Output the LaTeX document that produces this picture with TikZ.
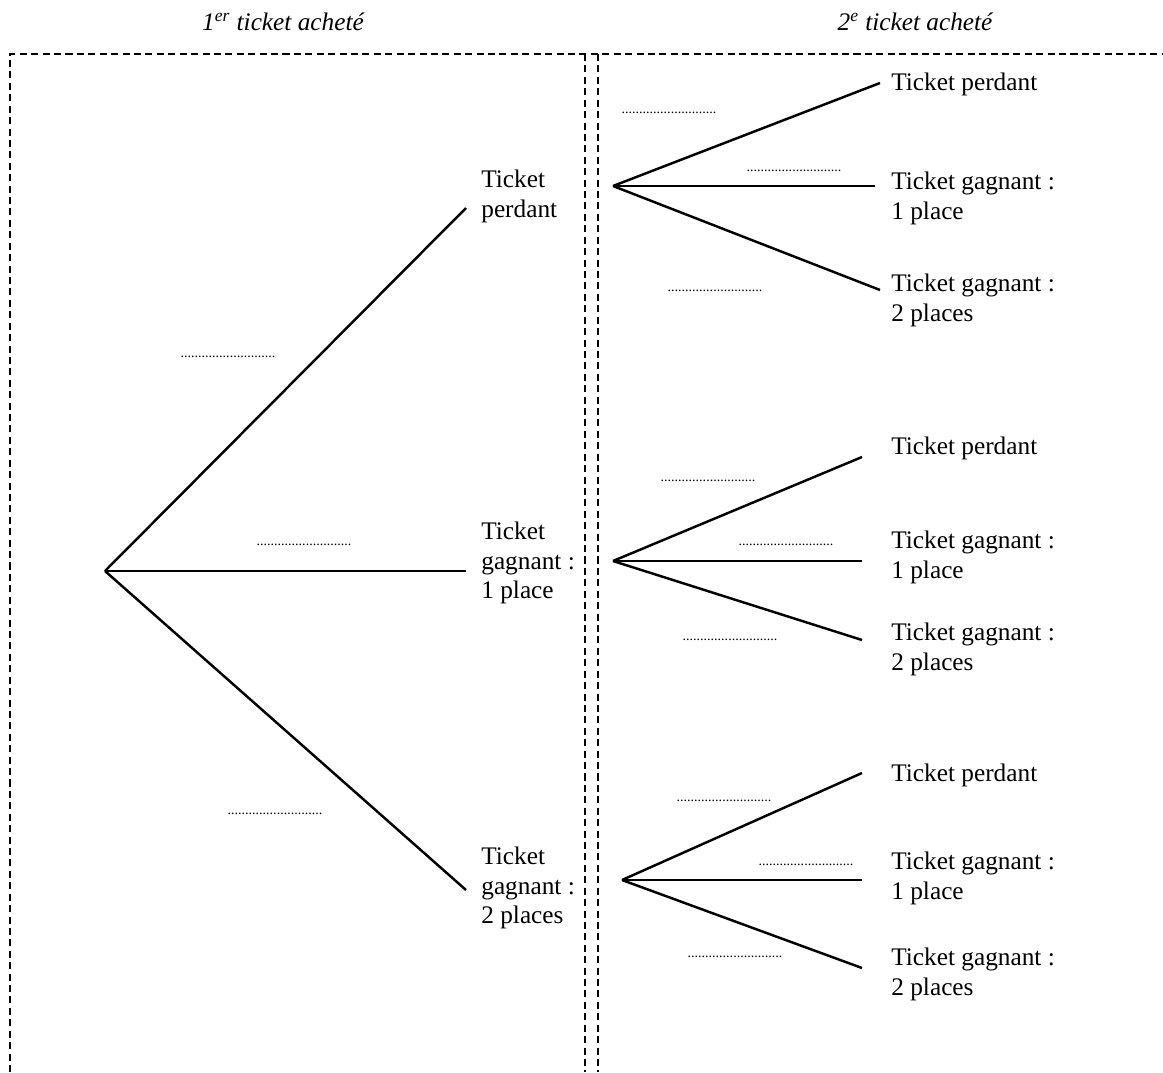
\documentclass[tikz,border=0pt]{standalone}
\usepackage{fontspec}
\setmainfont{Liberation Serif}
\usetikzlibrary{positioning}
\tikzset{
  branch/.style={line width=1.4pt},
  frame/.style={dash pattern=on 4pt off 2.5pt, line width=0.7pt},
  leaf/.style={anchor=west, align=left, inner sep=0pt, font=\fontsize{14.4}{17}\selectfont},
  blank/.style={inner sep=0pt, font=\fontsize{8}{9}\selectfont},
  head/.style={inner sep=0pt, font=\fontsize{14.4}{17}\selectfont\itshape}
}
\newcommand{\pointilles}{...........................}

\begin{document}
\begin{tikzpicture}[x=0.02cm,y=-0.02cm]
\useasboundingbox (0,0) rectangle (1163,1072);
\node[head] (h1) at (283,22) {1\textsuperscript{er} ticket acheté};
\node[head] (h2) at (915,22) {2\textsuperscript{e} ticket acheté};
\draw[frame] (10,1072) -- (10,54) -- (1163,54);
\draw[frame] (585,54) -- (585,1072);
\draw[frame] (598,54) -- (598,1072);

% premier ticket
\coordinate (r) at (105,571);
\coordinate (p) at (466,208);
\coordinate (g1) at (466,571);
\coordinate (g2) at (466,890);
\draw[branch] (r) -- (p);
\draw[branch] (r) -- (g1);
\draw[branch] (r) -- (g2);
\node[leaf] (lp) at (481,196) {Ticket\\perdant};
\node[leaf] (lg1) at (481,563) {Ticket\\gagnant :\\1 place};
\node[leaf] (lg2) at (481,888) {Ticket\\gagnant :\\2 places};
\node[blank] (bp) at (228,357) {\pointilles};
\node[blank] (bg1) at (304,545) {\pointilles};
\node[blank] (bg2) at (275,814) {\pointilles};

% second ticket apres perdant
\coordinate (rp) at (613,186);
\coordinate (pp) at (880,83);
\coordinate (pg1) at (875,186);
\coordinate (pg2) at (880,290);
\draw[branch] (rp) -- (pp);
\draw[branch] (rp) -- (pg1);
\draw[branch] (rp) -- (pg2);
\node[leaf] (lpp) at (891,84) {Ticket perdant};
\node[leaf] (lpg1) at (891,198) {Ticket gagnant :\\1 place};
\node[leaf] (lpg2) at (891,300) {Ticket gagnant :\\2 places};
\node[blank] (bpp) at (669,113) {\pointilles};
\node[blank] (bpg1) at (794,171) {\pointilles};
\node[blank] (bpg2) at (715,291) {\pointilles};

% second ticket apres gagnant 1 place
\coordinate (rg1) at (613,561);
\coordinate (g1p) at (862,457);
\coordinate (g1g1) at (862,561);
\coordinate (g1g2) at (862,640);
\draw[branch] (rg1) -- (g1p);
\draw[branch] (rg1) -- (g1g1);
\draw[branch] (rg1) -- (g1g2);
\node[leaf] (lg1p) at (891,448) {Ticket perdant};
\node[leaf] (lg1g1) at (891,557) {Ticket gagnant :\\1 place};
\node[leaf] (lg1g2) at (891,649) {Ticket gagnant :\\2 places};
\node[blank] (bg1p) at (708,481) {\pointilles};
\node[blank] (bg1g1) at (786,545) {\pointilles};
\node[blank] (bg1g2) at (730,640) {\pointilles};

% second ticket apres gagnant 2 places
\coordinate (rg2) at (622,880);
\coordinate (g2p) at (862,773);
\coordinate (g2g1) at (862,880);
\coordinate (g2g2) at (862,968);
\draw[branch] (rg2) -- (g2p);
\draw[branch] (rg2) -- (g2g1);
\draw[branch] (rg2) -- (g2g2);
\node[leaf] (lg2p) at (891,775) {Ticket perdant};
\node[leaf] (lg2g1) at (891,878) {Ticket gagnant :\\1 place};
\node[leaf] (lg2g2) at (891,974) {Ticket gagnant :\\2 places};
\node[blank] (bg2p) at (724,801) {\pointilles};
\node[blank] (bg2g1) at (806,865) {\pointilles};
\node[blank] (bg2g2) at (735,957) {\pointilles};
\end{tikzpicture}
\end{document}
